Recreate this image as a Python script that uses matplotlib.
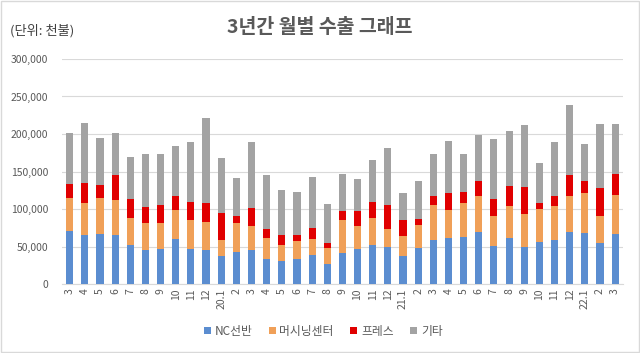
import matplotlib
matplotlib.use("Agg")
import matplotlib.pyplot as plt
from matplotlib.patches import Rectangle
from matplotlib.ticker import FuncFormatter

plt.rcParams['font.family'] = ['Noto Sans CJK KR', 'DejaVu Sans']

months = ['3', '4', '5', '6', '7', '8', '9', '10', '11', '12',
          '20.1', '2', '3', '4', '5', '6', '7', '8', '9', '10', '11', '12',
          '21.1', '2', '3', '4', '5', '6', '7', '8', '9', '10', '11', '12',
          '22.1', '2', '3']

nc_lathe = [71, 65, 67, 66, 52, 46, 47, 60, 47, 45,
            37, 43, 45, 33, 31, 33, 39, 27, 42, 47, 52, 49,
            37, 48, 59, 62, 63, 70, 51, 62, 50, 56, 59, 70,
            68, 55, 67]
machining = [44, 43, 48, 46, 36, 36, 35, 39, 39, 38,
             22, 39, 32, 28, 21, 24, 21, 21, 44, 31, 36, 24,
             27, 31, 47, 37, 45, 48, 40, 42, 44, 44, 45, 48,
             54, 36, 52]
press = [18, 27, 17, 33, 25, 21, 23, 19, 24, 25,
         36, 9, 24, 12, 14, 9, 15, 7, 12, 20, 21, 32,
         22, 8, 11, 23, 15, 20, 22, 27, 36, 8, 14, 28,
         15, 37, 28]
others = [69, 80, 63, 57, 56, 71, 69, 66, 79, 113,
          73, 50, 88, 72, 60, 57, 68, 52, 49, 42, 56, 76,
          36, 51, 56, 69, 51, 61, 80, 73, 82, 53, 71, 92,
          50, 86, 67]

series = [nc_lathe, machining, press, others]
labels = ['NC선반', '머시닝센터', '프레스', '기타']
colors = ['#5B8DD0', '#F0A058', '#E00000', '#A3A3A3']

fig = plt.figure(figsize=(6.4, 3.53), dpi=100)
ax = fig.add_axes([0.097, 0.195, 0.876, 0.638])

x = list(range(len(months)))
bottom = [0.0] * len(months)
for vals, lab, col in zip(series, labels, colors):
    v = [a * 1000 for a in vals]
    ax.bar(x, v, width=0.47, bottom=bottom, color=col, label=lab, zorder=3)
    bottom = [b + c for b, c in zip(bottom, v)]

ax.set_ylim(0, 300000)
ax.set_yticks(range(0, 300001, 50000))
ax.yaxis.set_major_formatter(FuncFormatter(lambda v, p: f'{int(v):,}'))
ax.set_xlim(-0.5, len(months) - 0.5)
ax.set_xticks(x)
ax.set_xticklabels(months, rotation=90, fontsize=7.5, color='#595959')
ax.tick_params(axis='y', labelsize=7.5, colors='#595959', length=0, pad=10)
ax.tick_params(axis='x', length=0, pad=3)
ax.grid(axis='y', color='#D9D9D9', linewidth=0.8, zorder=0)
for s in ['top', 'right', 'left']:
    ax.spines[s].set_visible(False)
ax.spines['bottom'].set_color('#D9D9D9')

fig.text(0.5, 0.922, '3년간 월별 수출 그래프', ha='center', va='center',
         fontsize=14, fontweight='bold', color='#595959')
fig.text(0.016, 0.912, '(단위: 천불)', ha='left', va='center',
         fontsize=9.5, color='#404040')

fig.legend(loc='center', bbox_to_anchor=(0.505, 0.062), ncol=4, frameon=False,
           fontsize=8.5, handlelength=0.6, handleheight=0.6, handletextpad=0.3,
           columnspacing=1.4, labelcolor='#595959')

fig.patches.append(Rectangle((0.002, 0.003), 0.996, 0.994, transform=fig.transFigure,
                             fill=False, edgecolor='#D9D9D9', linewidth=1))

fig.savefig('out.png', dpi=100)
